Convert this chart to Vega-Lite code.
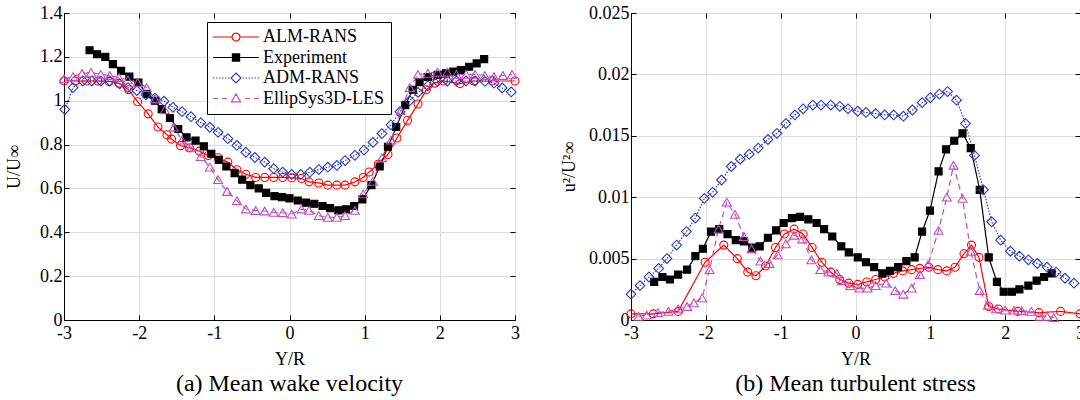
{
"$schema": "https://vega.github.io/schema/vega-lite/v6.json",
"background": "white",
"padding": {"left": 5, "top": 3, "right": 0, "bottom": 0},
"spacing": 38,
"config": {
 "font": "Liberation Serif",
 "view": {"stroke": "black", "strokeWidth": 1}
},
"datasets": {
"a": [
{"s":"ALM-RANS","x":-3.0,"y":1.09},{"s":"ALM-RANS","x":-2.85,"y":1.09},{"s":"ALM-RANS","x":-2.7,"y":1.09},{"s":"ALM-RANS","x":-2.55,"y":1.09},{"s":"ALM-RANS","x":-2.4,"y":1.088},{"s":"ALM-RANS","x":-2.27,"y":1.08},{"s":"ALM-RANS","x":-2.14,"y":1.05},{"s":"ALM-RANS","x":-2.02,"y":0.995},{"s":"ALM-RANS","x":-1.88,"y":0.94},{"s":"ALM-RANS","x":-1.75,"y":0.88},{"s":"ALM-RANS","x":-1.63,"y":0.845},{"s":"ALM-RANS","x":-1.57,"y":0.825},{"s":"ALM-RANS","x":-1.45,"y":0.795},{"s":"ALM-RANS","x":-1.33,"y":0.785},{"s":"ALM-RANS","x":-1.2,"y":0.77},{"s":"ALM-RANS","x":-1.08,"y":0.75},{"s":"ALM-RANS","x":-0.95,"y":0.74},{"s":"ALM-RANS","x":-0.82,"y":0.72},{"s":"ALM-RANS","x":-0.7,"y":0.685},{"s":"ALM-RANS","x":-0.58,"y":0.665},{"s":"ALM-RANS","x":-0.45,"y":0.65},{"s":"ALM-RANS","x":-0.33,"y":0.65},{"s":"ALM-RANS","x":-0.21,"y":0.65},{"s":"ALM-RANS","x":-0.09,"y":0.65},{"s":"ALM-RANS","x":0.03,"y":0.648},{"s":"ALM-RANS","x":0.16,"y":0.645},{"s":"ALM-RANS","x":0.26,"y":0.63},{"s":"ALM-RANS","x":0.39,"y":0.625},{"s":"ALM-RANS","x":0.51,"y":0.615},{"s":"ALM-RANS","x":0.63,"y":0.615},{"s":"ALM-RANS","x":0.74,"y":0.615},{"s":"ALM-RANS","x":0.87,"y":0.63},{"s":"ALM-RANS","x":0.98,"y":0.65},{"s":"ALM-RANS","x":1.06,"y":0.675},{"s":"ALM-RANS","x":1.18,"y":0.71},{"s":"ALM-RANS","x":1.31,"y":0.755},{"s":"ALM-RANS","x":1.43,"y":0.83},{"s":"ALM-RANS","x":1.57,"y":0.91},{"s":"ALM-RANS","x":1.71,"y":0.985},{"s":"ALM-RANS","x":1.82,"y":1.05},{"s":"ALM-RANS","x":1.93,"y":1.08},{"s":"ALM-RANS","x":2.05,"y":1.09},{"s":"ALM-RANS","x":2.27,"y":1.078},{"s":"ALM-RANS","x":2.45,"y":1.09},{"s":"ALM-RANS","x":2.7,"y":1.09},{"s":"ALM-RANS","x":3.0,"y":1.09},
{"s":"Experiment","x":-2.66,"y":1.23},{"s":"Experiment","x":-2.56,"y":1.212},{"s":"Experiment","x":-2.45,"y":1.2},{"s":"Experiment","x":-2.35,"y":1.167},{"s":"Experiment","x":-2.24,"y":1.136},{"s":"Experiment","x":-2.13,"y":1.11},{"s":"Experiment","x":-2.01,"y":1.083},{"s":"Experiment","x":-1.9,"y":1.03},{"s":"Experiment","x":-1.79,"y":1.0},{"s":"Experiment","x":-1.7,"y":0.962},{"s":"Experiment","x":-1.59,"y":0.921},{"s":"Experiment","x":-1.48,"y":0.871},{"s":"Experiment","x":-1.37,"y":0.833},{"s":"Experiment","x":-1.25,"y":0.818},{"s":"Experiment","x":-1.14,"y":0.792},{"s":"Experiment","x":-1.04,"y":0.758},{"s":"Experiment","x":-0.94,"y":0.73},{"s":"Experiment","x":-0.84,"y":0.7},{"s":"Experiment","x":-0.73,"y":0.67},{"s":"Experiment","x":-0.63,"y":0.64},{"s":"Experiment","x":-0.52,"y":0.615},{"s":"Experiment","x":-0.41,"y":0.6},{"s":"Experiment","x":-0.31,"y":0.58},{"s":"Experiment","x":-0.2,"y":0.565},{"s":"Experiment","x":-0.1,"y":0.56},{"s":"Experiment","x":0.0,"y":0.555},{"s":"Experiment","x":0.11,"y":0.545},{"s":"Experiment","x":0.22,"y":0.535},{"s":"Experiment","x":0.33,"y":0.53},{"s":"Experiment","x":0.44,"y":0.52},{"s":"Experiment","x":0.54,"y":0.51},{"s":"Experiment","x":0.65,"y":0.5},{"s":"Experiment","x":0.75,"y":0.505},{"s":"Experiment","x":0.86,"y":0.52},{"s":"Experiment","x":0.97,"y":0.55},{"s":"Experiment","x":1.09,"y":0.615},{"s":"Experiment","x":1.2,"y":0.7},{"s":"Experiment","x":1.31,"y":0.79},{"s":"Experiment","x":1.42,"y":0.88},{"s":"Experiment","x":1.54,"y":0.98},{"s":"Experiment","x":1.64,"y":1.05},{"s":"Experiment","x":1.73,"y":1.085},{"s":"Experiment","x":1.84,"y":1.108},{"s":"Experiment","x":1.97,"y":1.118},{"s":"Experiment","x":2.08,"y":1.125},{"s":"Experiment","x":2.18,"y":1.133},{"s":"Experiment","x":2.28,"y":1.14},{"s":"Experiment","x":2.39,"y":1.155},{"s":"Experiment","x":2.49,"y":1.17},{"s":"Experiment","x":2.59,"y":1.19},
{"s":"ADM-RANS","x":-2.99,"y":0.96},{"s":"ADM-RANS","x":-2.88,"y":1.06},{"s":"ADM-RANS","x":-2.75,"y":1.09},{"s":"ADM-RANS","x":-2.63,"y":1.09},{"s":"ADM-RANS","x":-2.51,"y":1.09},{"s":"ADM-RANS","x":-2.39,"y":1.09},{"s":"ADM-RANS","x":-2.26,"y":1.077},{"s":"ADM-RANS","x":-2.15,"y":1.06},{"s":"ADM-RANS","x":-2.03,"y":1.046},{"s":"ADM-RANS","x":-1.91,"y":1.027},{"s":"ADM-RANS","x":-1.79,"y":1.012},{"s":"ADM-RANS","x":-1.67,"y":0.998},{"s":"ADM-RANS","x":-1.55,"y":0.97},{"s":"ADM-RANS","x":-1.43,"y":0.95},{"s":"ADM-RANS","x":-1.31,"y":0.927},{"s":"ADM-RANS","x":-1.18,"y":0.9},{"s":"ADM-RANS","x":-1.06,"y":0.879},{"s":"ADM-RANS","x":-0.95,"y":0.856},{"s":"ADM-RANS","x":-0.82,"y":0.827},{"s":"ADM-RANS","x":-0.7,"y":0.796},{"s":"ADM-RANS","x":-0.58,"y":0.765},{"s":"ADM-RANS","x":-0.46,"y":0.741},{"s":"ADM-RANS","x":-0.33,"y":0.72},{"s":"ADM-RANS","x":-0.21,"y":0.69},{"s":"ADM-RANS","x":-0.09,"y":0.674},{"s":"ADM-RANS","x":0.03,"y":0.664},{"s":"ADM-RANS","x":0.15,"y":0.664},{"s":"ADM-RANS","x":0.27,"y":0.674},{"s":"ADM-RANS","x":0.39,"y":0.686},{"s":"ADM-RANS","x":0.51,"y":0.697},{"s":"ADM-RANS","x":0.63,"y":0.705},{"s":"ADM-RANS","x":0.74,"y":0.727},{"s":"ADM-RANS","x":0.87,"y":0.751},{"s":"ADM-RANS","x":0.99,"y":0.775},{"s":"ADM-RANS","x":1.11,"y":0.81},{"s":"ADM-RANS","x":1.23,"y":0.85},{"s":"ADM-RANS","x":1.35,"y":0.89},{"s":"ADM-RANS","x":1.47,"y":0.95},{"s":"ADM-RANS","x":1.6,"y":1.0},{"s":"ADM-RANS","x":1.71,"y":1.038},{"s":"ADM-RANS","x":1.84,"y":1.068},{"s":"ADM-RANS","x":1.97,"y":1.088},{"s":"ADM-RANS","x":2.1,"y":1.09},{"s":"ADM-RANS","x":2.22,"y":1.09},{"s":"ADM-RANS","x":2.35,"y":1.09},{"s":"ADM-RANS","x":2.47,"y":1.09},{"s":"ADM-RANS","x":2.6,"y":1.088},{"s":"ADM-RANS","x":2.72,"y":1.08},{"s":"ADM-RANS","x":2.83,"y":1.058},{"s":"ADM-RANS","x":2.95,"y":1.04},
{"s":"EllipSys3D-LES","x":-3.0,"y":1.1},{"s":"EllipSys3D-LES","x":-2.88,"y":1.11},{"s":"EllipSys3D-LES","x":-2.76,"y":1.124},{"s":"EllipSys3D-LES","x":-2.64,"y":1.129},{"s":"EllipSys3D-LES","x":-2.51,"y":1.12},{"s":"EllipSys3D-LES","x":-2.39,"y":1.115},{"s":"EllipSys3D-LES","x":-2.27,"y":1.106},{"s":"EllipSys3D-LES","x":-2.15,"y":1.095},{"s":"EllipSys3D-LES","x":-2.02,"y":1.083},{"s":"EllipSys3D-LES","x":-1.9,"y":1.06},{"s":"EllipSys3D-LES","x":-1.79,"y":1.008},{"s":"EllipSys3D-LES","x":-1.66,"y":0.958},{"s":"EllipSys3D-LES","x":-1.54,"y":0.879},{"s":"EllipSys3D-LES","x":-1.43,"y":0.82},{"s":"EllipSys3D-LES","x":-1.31,"y":0.788},{"s":"EllipSys3D-LES","x":-1.18,"y":0.745},{"s":"EllipSys3D-LES","x":-1.06,"y":0.697},{"s":"EllipSys3D-LES","x":-0.95,"y":0.64},{"s":"EllipSys3D-LES","x":-0.83,"y":0.586},{"s":"EllipSys3D-LES","x":-0.7,"y":0.544},{"s":"EllipSys3D-LES","x":-0.58,"y":0.506},{"s":"EllipSys3D-LES","x":-0.45,"y":0.499},{"s":"EllipSys3D-LES","x":-0.33,"y":0.497},{"s":"EllipSys3D-LES","x":-0.21,"y":0.491},{"s":"EllipSys3D-LES","x":-0.09,"y":0.489},{"s":"EllipSys3D-LES","x":0.03,"y":0.483},{"s":"EllipSys3D-LES","x":0.16,"y":0.506},{"s":"EllipSys3D-LES","x":0.26,"y":0.5},{"s":"EllipSys3D-LES","x":0.39,"y":0.476},{"s":"EllipSys3D-LES","x":0.51,"y":0.468},{"s":"EllipSys3D-LES","x":0.63,"y":0.468},{"s":"EllipSys3D-LES","x":0.74,"y":0.476},{"s":"EllipSys3D-LES","x":0.87,"y":0.5},{"s":"EllipSys3D-LES","x":0.98,"y":0.575},{"s":"EllipSys3D-LES","x":1.11,"y":0.632},{"s":"EllipSys3D-LES","x":1.23,"y":0.74},{"s":"EllipSys3D-LES","x":1.35,"y":0.82},{"s":"EllipSys3D-LES","x":1.48,"y":0.955},{"s":"EllipSys3D-LES","x":1.6,"y":1.06},{"s":"EllipSys3D-LES","x":1.71,"y":1.12},{"s":"EllipSys3D-LES","x":1.84,"y":1.125},{"s":"EllipSys3D-LES","x":1.97,"y":1.13},{"s":"EllipSys3D-LES","x":2.1,"y":1.13},{"s":"EllipSys3D-LES","x":2.22,"y":1.12},{"s":"EllipSys3D-LES","x":2.35,"y":1.12},{"s":"EllipSys3D-LES","x":2.47,"y":1.12},{"s":"EllipSys3D-LES","x":2.6,"y":1.115},{"s":"EllipSys3D-LES","x":2.72,"y":1.11},{"s":"EllipSys3D-LES","x":2.84,"y":1.115},{"s":"EllipSys3D-LES","x":2.96,"y":1.12}
],
"b": [
{"s":"ALM-RANS","x":-3.0,"y":0.0005},{"s":"ALM-RANS","x":-2.7,"y":0.0005},{"s":"ALM-RANS","x":-2.37,"y":0.0007},{"s":"ALM-RANS","x":-2.01,"y":0.0047},{"s":"ALM-RANS","x":-1.76,"y":0.0061},{"s":"ALM-RANS","x":-1.58,"y":0.005},{"s":"ALM-RANS","x":-1.44,"y":0.0039},{"s":"ALM-RANS","x":-1.33,"y":0.0036},{"s":"ALM-RANS","x":-1.2,"y":0.0044},{"s":"ALM-RANS","x":-1.07,"y":0.0059},{"s":"ALM-RANS","x":-0.95,"y":0.007},{"s":"ALM-RANS","x":-0.82,"y":0.0074},{"s":"ALM-RANS","x":-0.7,"y":0.007},{"s":"ALM-RANS","x":-0.58,"y":0.0059},{"s":"ALM-RANS","x":-0.45,"y":0.0047},{"s":"ALM-RANS","x":-0.33,"y":0.0039},{"s":"ALM-RANS","x":-0.21,"y":0.0033},{"s":"ALM-RANS","x":-0.09,"y":0.003},{"s":"ALM-RANS","x":0.03,"y":0.0029},{"s":"ALM-RANS","x":0.15,"y":0.0031},{"s":"ALM-RANS","x":0.27,"y":0.0033},{"s":"ALM-RANS","x":0.39,"y":0.0035},{"s":"ALM-RANS","x":0.51,"y":0.0038},{"s":"ALM-RANS","x":0.63,"y":0.004},{"s":"ALM-RANS","x":0.75,"y":0.0041},{"s":"ALM-RANS","x":0.86,"y":0.0042},{"s":"ALM-RANS","x":0.98,"y":0.0043},{"s":"ALM-RANS","x":1.1,"y":0.0041},{"s":"ALM-RANS","x":1.22,"y":0.004},{"s":"ALM-RANS","x":1.33,"y":0.0043},{"s":"ALM-RANS","x":1.45,"y":0.0054},{"s":"ALM-RANS","x":1.55,"y":0.0061},{"s":"ALM-RANS","x":1.65,"y":0.0051},{"s":"ALM-RANS","x":1.78,"y":0.0011},{"s":"ALM-RANS","x":1.91,"y":0.0009},{"s":"ALM-RANS","x":2.17,"y":0.0007},{"s":"ALM-RANS","x":2.45,"y":0.0006},{"s":"ALM-RANS","x":2.74,"y":0.0007},{"s":"ALM-RANS","x":3.0,"y":0.0005},
{"s":"Experiment","x":-2.69,"y":0.0031},{"s":"Experiment","x":-2.58,"y":0.0035},{"s":"Experiment","x":-2.48,"y":0.0033},{"s":"Experiment","x":-2.37,"y":0.0037},{"s":"Experiment","x":-2.25,"y":0.0041},{"s":"Experiment","x":-2.14,"y":0.0052},{"s":"Experiment","x":-2.04,"y":0.0058},{"s":"Experiment","x":-1.93,"y":0.0072},{"s":"Experiment","x":-1.82,"y":0.0074},{"s":"Experiment","x":-1.71,"y":0.007},{"s":"Experiment","x":-1.6,"y":0.0065},{"s":"Experiment","x":-1.49,"y":0.0064},{"s":"Experiment","x":-1.38,"y":0.0059},{"s":"Experiment","x":-1.28,"y":0.006},{"s":"Experiment","x":-1.17,"y":0.0067},{"s":"Experiment","x":-1.06,"y":0.0073},{"s":"Experiment","x":-0.96,"y":0.0079},{"s":"Experiment","x":-0.85,"y":0.0083},{"s":"Experiment","x":-0.74,"y":0.0084},{"s":"Experiment","x":-0.63,"y":0.0082},{"s":"Experiment","x":-0.52,"y":0.0079},{"s":"Experiment","x":-0.42,"y":0.0074},{"s":"Experiment","x":-0.31,"y":0.0068},{"s":"Experiment","x":-0.19,"y":0.006},{"s":"Experiment","x":-0.09,"y":0.0055},{"s":"Experiment","x":0.03,"y":0.0051},{"s":"Experiment","x":0.14,"y":0.0047},{"s":"Experiment","x":0.25,"y":0.0043},{"s":"Experiment","x":0.36,"y":0.0038},{"s":"Experiment","x":0.46,"y":0.004},{"s":"Experiment","x":0.57,"y":0.0043},{"s":"Experiment","x":0.68,"y":0.0048},{"s":"Experiment","x":0.79,"y":0.0051},{"s":"Experiment","x":0.89,"y":0.0072},{"s":"Experiment","x":0.995,"y":0.0089},{"s":"Experiment","x":1.11,"y":0.0121},{"s":"Experiment","x":1.21,"y":0.0139},{"s":"Experiment","x":1.32,"y":0.0146},{"s":"Experiment","x":1.43,"y":0.0152},{"s":"Experiment","x":1.54,"y":0.014},{"s":"Experiment","x":1.66,"y":0.0106},{"s":"Experiment","x":1.78,"y":0.0051},{"s":"Experiment","x":1.89,"y":0.0031},{"s":"Experiment","x":1.98,"y":0.0023},{"s":"Experiment","x":2.09,"y":0.0023},{"s":"Experiment","x":2.19,"y":0.0025},{"s":"Experiment","x":2.31,"y":0.0028},{"s":"Experiment","x":2.42,"y":0.0032},{"s":"Experiment","x":2.52,"y":0.0035},{"s":"Experiment","x":2.62,"y":0.0038},
{"s":"ADM-RANS","x":-3.0,"y":0.0021},{"s":"ADM-RANS","x":-2.88,"y":0.0028},{"s":"ADM-RANS","x":-2.76,"y":0.0035},{"s":"ADM-RANS","x":-2.63,"y":0.0042},{"s":"ADM-RANS","x":-2.52,"y":0.005},{"s":"ADM-RANS","x":-2.39,"y":0.0061},{"s":"ADM-RANS","x":-2.26,"y":0.0072},{"s":"ADM-RANS","x":-2.14,"y":0.0083},{"s":"ADM-RANS","x":-2.02,"y":0.0099},{"s":"ADM-RANS","x":-1.91,"y":0.0104},{"s":"ADM-RANS","x":-1.79,"y":0.0114},{"s":"ADM-RANS","x":-1.66,"y":0.0125},{"s":"ADM-RANS","x":-1.54,"y":0.0131},{"s":"ADM-RANS","x":-1.42,"y":0.0135},{"s":"ADM-RANS","x":-1.3,"y":0.014},{"s":"ADM-RANS","x":-1.17,"y":0.0147},{"s":"ADM-RANS","x":-1.05,"y":0.0152},{"s":"ADM-RANS","x":-0.93,"y":0.016},{"s":"ADM-RANS","x":-0.81,"y":0.0167},{"s":"ADM-RANS","x":-0.7,"y":0.0172},{"s":"ADM-RANS","x":-0.57,"y":0.0175},{"s":"ADM-RANS","x":-0.46,"y":0.0175},{"s":"ADM-RANS","x":-0.33,"y":0.0175},{"s":"ADM-RANS","x":-0.21,"y":0.0174},{"s":"ADM-RANS","x":-0.1,"y":0.0172},{"s":"ADM-RANS","x":0.03,"y":0.017},{"s":"ADM-RANS","x":0.14,"y":0.0169},{"s":"ADM-RANS","x":0.27,"y":0.0168},{"s":"ADM-RANS","x":0.39,"y":0.0167},{"s":"ADM-RANS","x":0.51,"y":0.0167},{"s":"ADM-RANS","x":0.64,"y":0.0166},{"s":"ADM-RANS","x":0.76,"y":0.0171},{"s":"ADM-RANS","x":0.89,"y":0.0177},{"s":"ADM-RANS","x":1.0,"y":0.0181},{"s":"ADM-RANS","x":1.12,"y":0.0184},{"s":"ADM-RANS","x":1.23,"y":0.0186},{"s":"ADM-RANS","x":1.35,"y":0.0179},{"s":"ADM-RANS","x":1.47,"y":0.016},{"s":"ADM-RANS","x":1.59,"y":0.0134},{"s":"ADM-RANS","x":1.71,"y":0.0106},{"s":"ADM-RANS","x":1.82,"y":0.008},{"s":"ADM-RANS","x":1.94,"y":0.0065},{"s":"ADM-RANS","x":2.07,"y":0.0056},{"s":"ADM-RANS","x":2.19,"y":0.0052},{"s":"ADM-RANS","x":2.31,"y":0.0049},{"s":"ADM-RANS","x":2.43,"y":0.0046},{"s":"ADM-RANS","x":2.56,"y":0.0043},{"s":"ADM-RANS","x":2.68,"y":0.0039},{"s":"ADM-RANS","x":2.8,"y":0.0034},{"s":"ADM-RANS","x":2.92,"y":0.003},
{"s":"EllipSys3D-LES","x":-2.9,"y":0.0003},{"s":"EllipSys3D-LES","x":-2.79,"y":0.0004},{"s":"EllipSys3D-LES","x":-2.64,"y":0.0006},{"s":"EllipSys3D-LES","x":-2.5,"y":0.0007},{"s":"EllipSys3D-LES","x":-2.37,"y":0.0009},{"s":"EllipSys3D-LES","x":-2.25,"y":0.0011},{"s":"EllipSys3D-LES","x":-2.16,"y":0.0014},{"s":"EllipSys3D-LES","x":-2.05,"y":0.0018},{"s":"EllipSys3D-LES","x":-1.95,"y":0.0041},{"s":"EllipSys3D-LES","x":-1.83,"y":0.0074},{"s":"EllipSys3D-LES","x":-1.72,"y":0.0096},{"s":"EllipSys3D-LES","x":-1.61,"y":0.0086},{"s":"EllipSys3D-LES","x":-1.49,"y":0.0068},{"s":"EllipSys3D-LES","x":-1.39,"y":0.0058},{"s":"EllipSys3D-LES","x":-1.27,"y":0.0048},{"s":"EllipSys3D-LES","x":-1.15,"y":0.0046},{"s":"EllipSys3D-LES","x":-1.04,"y":0.0053},{"s":"EllipSys3D-LES","x":-0.93,"y":0.0062},{"s":"EllipSys3D-LES","x":-0.82,"y":0.0069},{"s":"EllipSys3D-LES","x":-0.71,"y":0.0066},{"s":"EllipSys3D-LES","x":-0.59,"y":0.0049},{"s":"EllipSys3D-LES","x":-0.47,"y":0.0041},{"s":"EllipSys3D-LES","x":-0.36,"y":0.0039},{"s":"EllipSys3D-LES","x":-0.25,"y":0.0038},{"s":"EllipSys3D-LES","x":-0.18,"y":0.0032},{"s":"EllipSys3D-LES","x":-0.07,"y":0.0028},{"s":"EllipSys3D-LES","x":0.05,"y":0.0026},{"s":"EllipSys3D-LES","x":0.16,"y":0.0026},{"s":"EllipSys3D-LES","x":0.27,"y":0.0028},{"s":"EllipSys3D-LES","x":0.41,"y":0.003},{"s":"EllipSys3D-LES","x":0.53,"y":0.0024},{"s":"EllipSys3D-LES","x":0.64,"y":0.0021},{"s":"EllipSys3D-LES","x":0.75,"y":0.0026},{"s":"EllipSys3D-LES","x":0.86,"y":0.0037},{"s":"EllipSys3D-LES","x":0.97,"y":0.0045},{"s":"EllipSys3D-LES","x":1.11,"y":0.0073},{"s":"EllipSys3D-LES","x":1.22,"y":0.01},{"s":"EllipSys3D-LES","x":1.31,"y":0.0126},{"s":"EllipSys3D-LES","x":1.43,"y":0.0099},{"s":"EllipSys3D-LES","x":1.54,"y":0.0056},{"s":"EllipSys3D-LES","x":1.66,"y":0.0024},{"s":"EllipSys3D-LES","x":1.77,"y":0.0012},{"s":"EllipSys3D-LES","x":1.88,"y":0.0009},{"s":"EllipSys3D-LES","x":2.0,"y":0.0008},{"s":"EllipSys3D-LES","x":2.12,"y":0.0008},{"s":"EllipSys3D-LES","x":2.22,"y":0.00075},{"s":"EllipSys3D-LES","x":2.35,"y":0.0007},{"s":"EllipSys3D-LES","x":2.46,"y":0.0003},{"s":"EllipSys3D-LES","x":2.56,"y":0.0003},{"s":"EllipSys3D-LES","x":2.65,"y":0.0002}
]
},
"hconcat": [
{
 "width": 451, "height": 307,
 "title": {"text": "(a) Mean wake velocity", "font": "Liberation Serif", "fontSize": 24, "fontWeight": "normal", "color": "black", "orient": "bottom", "frame": "group", "offset": 4},
 "data": {"name": "a"},
 "layer": [
  {"mark": {"type": "line", "strokeWidth": 1.2, "strokeDash": {"expr": "datum.s === 'ADM-RANS' ? [1.5, 1.5] : datum.s === 'EllipSys3D-LES' ? [6, 4] : [1, 0]"}},
   "encoding": {
    "x": {"field": "x", "type": "quantitative", "scale": {"domain": [-3, 3], "nice": false, "zero": false},
     "axis": {"values": [-3, -2, -1, 0, 1, 2, 3], "title": "Y/R", "grid": true, "gridColor": "#dcdcdc", "gridWidth": 1, "domainColor": "black", "tickColor": "black", "tickSize": -5, "tickWidth": 1, "labelFont": "Liberation Serif", "labelFontSize": 18, "labelColor": "black", "labelPadding": 9, "labelFlush": false, "labelOverlap": false, "titleFont": "Liberation Serif", "titleFontSize": 18, "titleFontWeight": "normal", "titleColor": "black", "titlePadding": 8, "labelExpr": "datum.value < 0 ? '-' + (-datum.value) : '' + datum.value"}},
    "y": {"field": "y", "type": "quantitative", "scale": {"domain": [0, 1.4], "nice": false, "zero": false},
     "axis": {"values": [0, 0.2, 0.4, 0.6, 0.8, 1, 1.2, 1.4], "title": "U/U∞", "grid": true, "gridColor": "#dcdcdc", "gridWidth": 1, "domainColor": "black", "tickColor": "black", "tickSize": -5, "tickWidth": 1, "labelFont": "Liberation Serif", "labelFontSize": 18, "labelColor": "black", "labelPadding": 7, "labelFlush": false, "labelOverlap": false, "titleFont": "Liberation Serif", "titleFontSize": 18, "titleFontWeight": "normal", "titleColor": "black", "titlePadding": 16, "labelExpr": "'' + datum.value"}},
    "color": {"field": "s", "type": "nominal", "scale": {"domain": ["ALM-RANS", "Experiment", "ADM-RANS", "EllipSys3D-LES"], "range": ["#ff0000", "#000000", "#2b3db8", "#bf4fbf"]},
     "legend": {"orient": "none", "legendX": 143, "legendY": 9, "title": null, "strokeColor": "black", "fillColor": "white", "padding": 6, "rowPadding": 2.5, "labelFont": "Liberation Serif", "labelFontSize": 18, "labelColor": "black", "symbolType": "circle", "symbolSize": 64, "symbolStrokeWidth": 1.2, "symbolOffset": 14, "labelOffset": 18, "cornerRadius": 0,
      "encode": {"symbols": {"update": {
      "shape": {"signal": "datum.value === 'ALM-RANS' ? 'M-5.75,0H-1M1,0H5.75M1,0L0.866,0.5L0.5,0.866L0,1L-0.5,0.866L-0.866,0.5L-1,0L-0.866,-0.5L-0.5,-0.866L0,-1L0.5,-0.866L0.866,-0.5Z' : datum.value === 'Experiment' ? 'M-5.75,0H5.75M-0.9,-0.9H0.9V0.9H-0.9Z' : datum.value === 'ADM-RANS' ? 'M-5.75,0h0.35M-5,0h0.35M-4.25,0h0.35M-3.5,0h0.35M-2.75,0h0.35M-2,0h0.35M1.65,0h0.35M2.4,0h0.35M3.15,0h0.35M3.9,0h0.35M4.65,0h0.35M5.4,0h0.35M0,-1.25L1.25,0L0,1.25L-1.25,0Z' : 'M-5.75,0H-4.5M-3.5,0H-2.25M2.25,0H3.5M4.5,0H5.75M0,-1.15L1.15,0.85L-1.15,0.85Z'"},
      "fill": {"signal": "datum.value === 'Experiment' ? 'black' : 'transparent'"},
      "strokeDash": {"value": []},
      "opacity": {"value": 1}}}}}}
   }},
  {"mark": {"type": "point", "filled": false, "strokeWidth": 1.1, "opacity": 1,
    "shape": {"expr": "datum.s === 'ALM-RANS' ? 'circle' : datum.s === 'Experiment' ? 'square' : datum.s === 'ADM-RANS' ? 'diamond' : 'triangle-up'"},
    "size": {"expr": "datum.s === 'ALM-RANS' ? 64 : datum.s === 'Experiment' ? 50 : datum.s === 'ADM-RANS' ? 95 : 80"}},
   "encoding": {
    "x": {"field": "x", "type": "quantitative", "scale": {"domain": [-3, 3], "nice": false, "zero": false}, "axis": {"orient": "top", "values": [-3, -2, -1, 0, 1, 2, 3], "labels": false, "title": null, "grid": false, "domain": false, "tickColor": "black", "tickSize": -5, "tickWidth": 1}},
    "y": {"field": "y", "type": "quantitative", "scale": {"domain": [0, 1.4], "nice": false, "zero": false}, "axis": {"orient": "right", "values": [0, 0.2, 0.4, 0.6, 0.8, 1, 1.2, 1.4], "labels": false, "title": null, "grid": false, "domain": false, "tickColor": "black", "tickSize": -5, "tickWidth": 1}},
    "color": {"field": "s", "type": "nominal"},
    "fill": {"condition": {"test": "datum.s === 'Experiment'", "value": "black"}, "value": "transparent"}
   }}
 ],
 "resolve": {"axis": {"x": "independent", "y": "independent"}}
},
{
 "width": 449, "height": 307,
 "title": {"text": "(b) Mean turbulent stress", "font": "Liberation Serif", "fontSize": 24, "fontWeight": "normal", "color": "black", "orient": "bottom", "frame": "group", "offset": 4},
 "data": {"name": "b"},
 "layer": [
  {"mark": {"type": "line", "strokeWidth": 1.2, "strokeDash": {"expr": "datum.s === 'ADM-RANS' ? [1.5, 1.5] : datum.s === 'EllipSys3D-LES' ? [6, 4] : [1, 0]"}},
   "encoding": {
    "x": {"field": "x", "type": "quantitative", "scale": {"domain": [-3, 3], "nice": false, "zero": false},
     "axis": {"values": [-3, -2, -1, 0, 1, 2, 3], "title": "Y/R", "grid": true, "gridColor": "#dcdcdc", "gridWidth": 1, "domainColor": "black", "tickColor": "black", "tickSize": -5, "tickWidth": 1, "labelFont": "Liberation Serif", "labelFontSize": 18, "labelColor": "black", "labelPadding": 9, "labelFlush": false, "labelOverlap": false, "titleFont": "Liberation Serif", "titleFontSize": 18, "titleFontWeight": "normal", "titleColor": "black", "titlePadding": 8, "labelExpr": "datum.value < 0 ? '-' + (-datum.value) : '' + datum.value"}},
    "y": {"field": "y", "type": "quantitative", "scale": {"domain": [0, 0.025], "nice": false, "zero": false},
     "axis": {"values": [0, 0.005, 0.01, 0.015, 0.02, 0.025], "title": "u²/U²∞", "grid": true, "gridColor": "#dcdcdc", "gridWidth": 1, "domainColor": "black", "tickColor": "black", "tickSize": -5, "tickWidth": 1, "labelFont": "Liberation Serif", "labelFontSize": 18, "labelColor": "black", "labelPadding": 7, "labelFlush": false, "labelOverlap": false, "titleFont": "Liberation Serif", "titleFontSize": 18, "titleFontWeight": "normal", "titleColor": "black", "titlePadding": 10, "labelExpr": "'' + datum.value"}},
    "color": {"field": "s", "type": "nominal", "scale": {"domain": ["ALM-RANS", "Experiment", "ADM-RANS", "EllipSys3D-LES"], "range": ["#ff0000", "#000000", "#2b3db8", "#bf4fbf"]},
     "legend": {"orient": "none", "legendX": 8, "legendY": 3, "title": null, "strokeColor": "black", "fillColor": "white", "padding": 6, "rowPadding": 2.5, "labelFont": "Liberation Serif", "labelFontSize": 18, "labelColor": "black", "symbolType": "circle", "symbolSize": 64, "symbolStrokeWidth": 1.2, "symbolOffset": 14, "labelOffset": 18, "cornerRadius": 0,
      "encode": {"symbols": {"update": {
      "shape": {"signal": "datum.value === 'ALM-RANS' ? 'M-5.75,0H-1M1,0H5.75M1,0L0.866,0.5L0.5,0.866L0,1L-0.5,0.866L-0.866,0.5L-1,0L-0.866,-0.5L-0.5,-0.866L0,-1L0.5,-0.866L0.866,-0.5Z' : datum.value === 'Experiment' ? 'M-5.75,0H5.75M-0.9,-0.9H0.9V0.9H-0.9Z' : datum.value === 'ADM-RANS' ? 'M-5.75,0h0.35M-5,0h0.35M-4.25,0h0.35M-3.5,0h0.35M-2.75,0h0.35M-2,0h0.35M1.65,0h0.35M2.4,0h0.35M3.15,0h0.35M3.9,0h0.35M4.65,0h0.35M5.4,0h0.35M0,-1.25L1.25,0L0,1.25L-1.25,0Z' : 'M-5.75,0H-4.5M-3.5,0H-2.25M2.25,0H3.5M4.5,0H5.75M0,-1.15L1.15,0.85L-1.15,0.85Z'"},
      "fill": {"signal": "datum.value === 'Experiment' ? 'black' : 'transparent'"},
      "strokeDash": {"value": []},
      "opacity": {"value": 1}}}}}}
   }},
  {"mark": {"type": "point", "filled": false, "strokeWidth": 1.1, "opacity": 1,
    "shape": {"expr": "datum.s === 'ALM-RANS' ? 'circle' : datum.s === 'Experiment' ? 'square' : datum.s === 'ADM-RANS' ? 'diamond' : 'triangle-up'"},
    "size": {"expr": "datum.s === 'ALM-RANS' ? 64 : datum.s === 'Experiment' ? 50 : datum.s === 'ADM-RANS' ? 95 : 80"}},
   "encoding": {
    "x": {"field": "x", "type": "quantitative", "scale": {"domain": [-3, 3], "nice": false, "zero": false}, "axis": {"orient": "top", "values": [-3, -2, -1, 0, 1, 2, 3], "labels": false, "title": null, "grid": false, "domain": false, "tickColor": "black", "tickSize": -5, "tickWidth": 1}},
    "y": {"field": "y", "type": "quantitative", "scale": {"domain": [0, 0.025], "nice": false, "zero": false}, "axis": {"orient": "right", "values": [0, 0.005, 0.01, 0.015, 0.02, 0.025], "labels": false, "title": null, "grid": false, "domain": false, "tickColor": "black", "tickSize": -5, "tickWidth": 1}},
    "color": {"field": "s", "type": "nominal"},
    "fill": {"condition": {"test": "datum.s === 'Experiment'", "value": "black"}, "value": "transparent"}
   }}
 ],
 "resolve": {"axis": {"x": "independent", "y": "independent"}}
}
]
}
